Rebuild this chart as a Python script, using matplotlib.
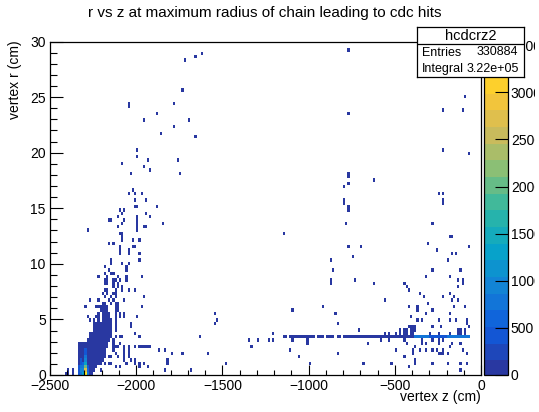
import matplotlib
matplotlib.use("Agg")
import matplotlib.pyplot as plt
import numpy as np
from matplotlib.colors import LinearSegmentedColormap, Normalize
from matplotlib.ticker import MultipleLocator
from matplotlib.transforms import Bbox

# isolated cells, one list of z values per r row
row_r = [29.25, 28.95, 28.65, 28.35, 25.65, 25.05, 24.45, 24.15, 23.85, 23.55, 22.95, 22.35, 21.75, 21.45,
         20.25, 19.95, 19.65, 19.35, 19.05, 18.75, 18.45, 18.15, 17.85, 17.55, 17.25, 16.95, 16.65, 16.35,
         15.75, 15.45, 15.15, 14.85, 14.55, 14.25, 13.95, 13.65, 13.35, 13.05, 12.75, 12.45, 12.15, 11.85,
         11.55, 11.25, 10.95, 10.65, 10.35, 10.05, 9.75, 9.45, 9.15, 8.85, 8.55, 8.25, 7.95, 7.65, 7.35,
         7.05, 6.75, 6.45, 6.15, 5.85, 5.55, 5.25, 4.95, 4.65, 4.35, 4.05, 3.75, 3.45, 3.15, 2.85, 2.55,
         2.25, 1.95, 1.65, 1.35, 1.05, 0.75, 0.45, 0.15]
row_z = [
    [-769], [-1620], [-1659], [-1719], [-1728], [-89], [-1780, -2040, -2047], [-2047],
    [-216, -108], [-1879, -769], [-1951, -1697], [-1780], [-1858], [-1659],
    [-1989, -216], [-75], [-1999], [-1931, -1755], [-2078], [-1960], [-1922],
    [-2030, -1748, -769], [-769], [-619], [-769], [-789], [-2020], [-2040, -2009, -1970, -244, -224],
    [-2009, -1941, -224, -789], [-789, -224], [-2009, -1989, -1879, -769], [-2094, -2071, -769], [-1943, -2080],
    [-2109, -1922, -1997], [-2158, -2142, -2071, -1997], [-2080, -1840, -1997, -779, -276],
    [-2109, -1958, -1943, -1997], [-2283, -1997], [-2090, -2080, -1139], [-2080, -185, -166],
    [-2080, -2020, -1982], [-2158, -2132, -307], [-2090, -2020, -2001, -769, -698, -75], [-2040, -2090, -259],
    [-1982, -2040, -2090, -166, -147], [-750], [-1982, -2140, -866, -197], [-2140, -2080, -2040],
    [-2051, -2181], [-2059, -2160, -858, -276, -118], [-2140, -2129, -2183],
    [-2220, -2175, -2109, -2051, -1970, -319, -187],
    [-2183, -2168, -2135, -2120, -2100, -2051, -866, -737, -137, -108],
    [-2183, -2168, -2129, -2109, -866, -621, -450, -102], [-2129, -2109, -2080, -437, -137],
    [-2187, -2172, -2113, -2082, -2040, -2009, -416], [-2198, -2172, -2137, -2113, -356, -176],
    [-2178, -2148, -2113, -1958, -336, -216, -157], [-2215, -2155, -2132, -2063, -2272, -557, -166, -127],
    [-2150, -2120, -2105, -307], [-2291, -2230, -2215, -2205, -2120, -2105, -1970, -416, -375, -157, -98, -920],
    [-2210, -2120, -2105, -375, -1091, -276], [-2225, -2215, -1539, -847, -317, -187, -2120, -2100, -2075],
    [-2283, -2230, -2215, -2122, -2090, -2070, -1991, -404],
    [-2275, -2240, -2225, -2215, -1529, -2116, -375, -346, -245, -187, -147, -87],
    [-2240, -2230, -2220, -2113, -2032, -1539, -828, -87, -2250],
    [-2250, -2240, -2230, -2032, -2125, -416, -404, -392, -383, -286, -236, -75],
    [-2122, -706, -470, -450, -430, -411, -392, -383, -135, -117, -97],
    [-2001, -1208, -560, -533, -492, -470, -450, -430, -411, -392, -300, -240, -185, -135, -117, -97, -88],
    [-2125, -2094, -2078, -1978, -1635], [-1340, -1289, -1237, -1208, -1100, -1011, -582, -537, -450, -346, -276,
                                           -247, -218, -2130],
    [-1011, -659, -431, -346, -315, -247, -164, -122, -2135, -2100],
    [-2130, -2118, -2106, -2070, -2040, -2012, -1987, -1975, -1962, -1950, -1937, -1925, -1330, -383, -180],
    [-2130, -2065, -2045, -1872, -1833, -1112, -499, -392, -360, -315, -286, -257, -218, -110],
    [-2115, -2065, -2045, -1800, -1730, -1587, -837, -396, -245, -235, -225, -199, -87],
    [-2155, -2140, -2105, -2065, -2045, -1058, -441], [-2065, -2036, -2007, -1819, -377],
    [-2185, -2160, -2148, -2059, -2007, -1987, -1962, -1819, -1479, -1000, -686, -516, -377, -286, -199, -122, -87],
    [-2113, -2090, -1982, -1931, -416], [-2397, -2368, -2210, -1829, -1680, -118], [-2397, -2368, -2403],
]

# solid core at the foot of the plot: z column, lowest and highest r row
core_z = [-2331, -2319, -2306, -2294, -2281, -2269, -2256, -2244, -2231, -2219, -2206, -2194, -2181, -2169, -2156, -2144]
core_r_lo = [0.0, 0.0, 0.0, 0.0, 0.0, 0.0, 0.0, 0.3, 0.6, 0.9, 0.9, 1.2, 1.5, 2.4, 3.0, 3.3]
core_r_hi = [2.9, 2.9, 3.1, 3.1, 3.4, 4.0, 4.0, 4.1, 4.1, 4.6, 4.9, 6.5, 6.6, 6.3, 5.6, 5.0]

# hot cells inside the core
hot_z = [-2294, -2294, -2294, -2294, -2294, -2294, -2294, -2294, -2306, -2306, -2306, -2306,
         -2319, -2319, -2319, -2319, -2319, -2331, -2331, -2331, -2281, -2281, -2281]
hot_r = [0.15, 0.45, 0.75, 1.05, 1.35, 1.65, 1.95, 2.25, 0.15, 0.45, 0.75, 1.05,
         0.15, 0.45, 0.75, 1.05, 1.35, 0.15, 0.45, 0.75, 0.15, 0.45, 0.75]
hot_n = [3300, 2600, 1900, 1300, 900, 700, 400, 300, 1200, 1000, 800, 500,
         800, 900, 700, 400, 300, 400, 400, 300, 700, 500, 300]

# horizontal band at r = 3.45
band_start = [-1143, -1112, -982, -944, -899, -868, -837, -795, -754, -388, -300, -200]
band_stop = [-1125, -994, -955, -913, -878, -851, -812, -762, -388, -300, -200, -62]
band_n = [80, 80, 80, 80, 80, 80, 80, 80, 120, 750, 500, 750]

bird_colors = [
    (0.16, 0.22, 0.63), (0.0592, 0.3599, 0.8684), (0.0780, 0.5041, 0.8385),
    (0.0232, 0.6419, 0.7914), (0.1802, 0.7178, 0.6425), (0.5301, 0.7492, 0.4662),
    (0.8186, 0.7328, 0.3499), (0.9956, 0.7862, 0.1968), (0.9764, 0.9832, 0.0539),
]
z_max = 3540

z_vals, r_vals, weights = [], [], []


def add_cell(z, r, n):
    z_vals.append(z)
    r_vals.append(r)
    weights.append(n)


for r, zs in zip(row_r, row_z):
    for z in zs:
        add_cell(z, r, 30)
for z, lo, hi in zip(core_z, core_r_lo, core_r_hi):
    for r in np.arange(lo + 0.15, hi, 0.3):
        add_cell(z, r, 60)
for z, r, n in zip(hot_z, hot_r, hot_n):
    add_cell(z, r, n)
for start, stop, n in zip(band_start, band_stop, band_n):
    for z in np.arange(start + 3, stop, 12.5):
        add_cell(z, 3.45, n)

counts, z_edges, r_edges = np.histogram2d(
    z_vals, r_vals, bins=[200, 100], range=[[-2500, 0], [0, 30]], weights=weights
)

W, H = 539, 412
plt.rcParams["font.family"] = ["Liberation Sans", "DejaVu Sans"]
fig = plt.figure(figsize=(W / 100, H / 100), dpi=100)


def px_axes(x0, y0, x1, y1, **kw):
    return fig.add_axes([x0 / W, 1 - y1 / H, (x1 - x0) / W, (y1 - y0) / H], **kw)


ax = px_axes(50, 41.5, 481, 375)
cmap = LinearSegmentedColormap.from_list("bird", bird_colors, N=20)
mesh = ax.pcolormesh(
    z_edges, r_edges, np.ma.masked_equal(counts.T, 0), cmap=cmap, norm=Normalize(0, z_max), linewidth=0
)
ax.set_xlim(-2500, 0)
ax.set_ylim(0, 30)
ax.xaxis.set_major_locator(MultipleLocator(500))
ax.xaxis.set_minor_locator(MultipleLocator(100))
ax.yaxis.set_major_locator(MultipleLocator(5))
ax.yaxis.set_minor_locator(MultipleLocator(1))
ax.tick_params(axis="x", which="major", direction="in", length=7.2, width=0.8, labelsize=10, pad=3)
ax.tick_params(axis="x", which="minor", direction="in", length=3.6, width=0.8)
ax.tick_params(axis="y", which="major", direction="in", length=9.4, width=0.8, labelsize=10, pad=3)
ax.tick_params(axis="y", which="minor", direction="in", length=4.7, width=0.8)
for spine in ax.spines.values():
    spine.set_linewidth(0.9)

fig.text(264.5 / W, 1 - 13 / H, "r vs z at maximum radius of chain leading to cdc hits",
         ha="center", va="center", fontsize=11)
fig.text(481 / W, 1 - 397 / H, "vertex z (cm)", ha="right", va="center", fontsize=10)
fig.text(15 / W, 1 - 40 / H, "vertex r (cm)", ha="center", va="top", rotation=90, fontsize=10)

cax = px_axes(483.5, 41.5, 508, 375)
cbar = fig.colorbar(mesh, cax=cax)
cbar.set_ticks(np.arange(0, 3501, 500))
cbar.ax.tick_params(direction="in", length=9.4, width=0.8, labelsize=10, pad=2)
cbar.outline.set_linewidth(0.9)
cbar.solids.set_edgecolor("face")
# the reference canvas cuts these labels short of the right edge
for label in cbar.ax.get_yticklabels():
    label.set_clip_box(Bbox([[0, 0], [535, H]]))
    label.set_clip_on(True)

box = px_axes(417, 27, 524, 77, zorder=5)
box.set_xlim(417, 524)
box.set_ylim(77, 27)
box.set_xticks([])
box.set_yticks([])
for spine in box.spines.values():
    spine.set_linewidth(0.9)
box.axhline(44, color="black", linewidth=0.9)
box.text(470.5, 35.5, "hcdcrz2", ha="center", va="center", fontsize=10.5)
box.text(422, 53, "Entries", ha="left", va="center", fontsize=9)
box.text(518, 52, "330884", ha="right", va="center", fontsize=9)
box.text(422, 69, "Integral", ha="left", va="center", fontsize=9)
box.text(519, 69, "3.22e+05", ha="right", va="center", fontsize=9)

fig.savefig("out.png", dpi=100)
